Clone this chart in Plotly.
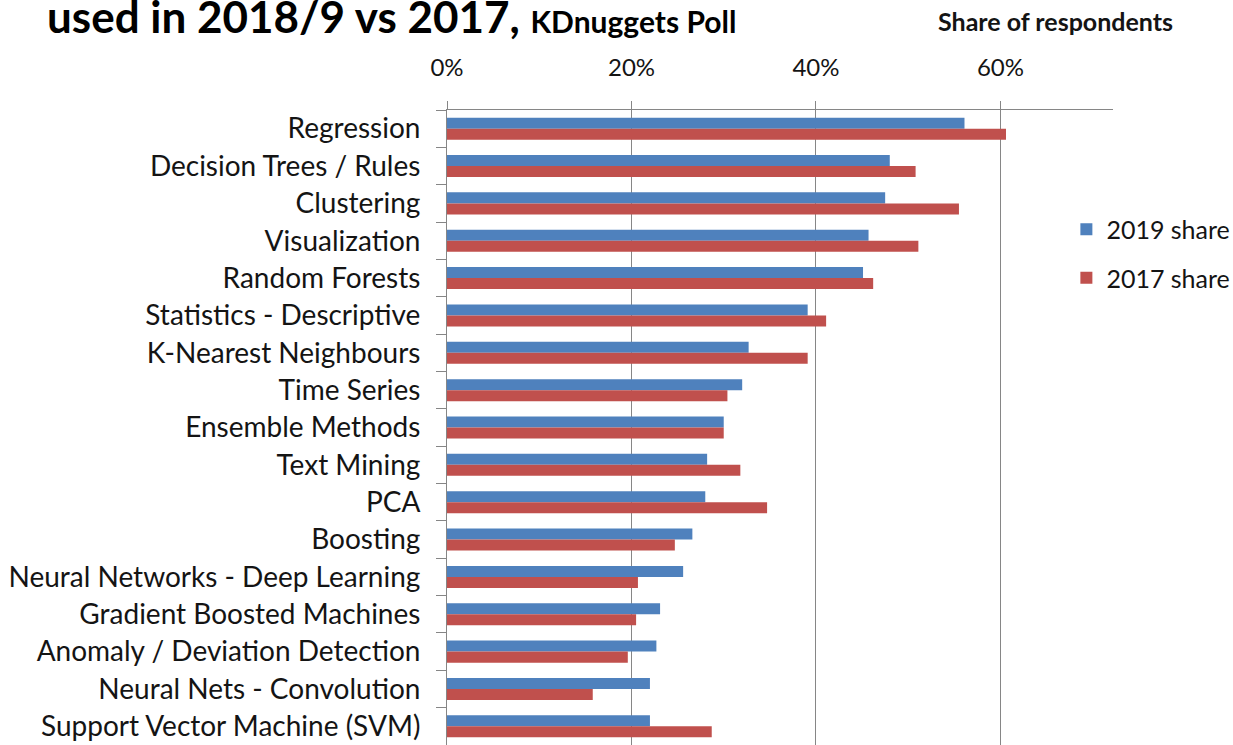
import plotly.graph_objects as go

# Poll categories, top to bottom
algorithms = [
    "Regression",
    "Decision Trees / Rules",
    "Clustering",
    "Visualization",
    "Random Forests",
    "Statistics - Descriptive",
    "K-Nearest Neighbours",
    "Time Series",
    "Ensemble Methods",
    "Text Mining",
    "PCA",
    "Boosting",
    "Neural Networks - Deep Learning",
    "Gradient Boosted Machines",
    "Anomaly / Deviation Detection",
    "Neural Nets - Convolution",
    "Support Vector Machine (SVM)",
]

# Share of respondents (fraction)
share_2019 = [0.561, 0.480, 0.475, 0.457, 0.451, 0.391, 0.327, 0.320, 0.300, 0.282,
              0.280, 0.266, 0.256, 0.231, 0.227, 0.220, 0.220]
share_2017 = [0.606, 0.508, 0.555, 0.511, 0.462, 0.411, 0.391, 0.304, 0.300, 0.318,
              0.347, 0.247, 0.207, 0.205, 0.196, 0.158, 0.287]

x_ticks = [0, 0.2, 0.4, 0.6]
x_tick_labels = ["0%", "20%", "40%", "60%"]

BLUE = "#4F81BD"
RED = "#C0504D"
GRID = "#868686"
FONT = "Lato"
INK = "#141414"

fig = go.Figure()
fig.add_trace(go.Bar(
    y=algorithms, x=share_2019, orientation="h", name="2019 share",
    marker=dict(color=BLUE, line=dict(width=0)), legendgroup="a",
))
fig.add_trace(go.Bar(
    y=algorithms, x=share_2017, orientation="h", name="2017 share",
    marker=dict(color=RED, line=dict(width=0)), legendgroup="b",
))

fig.update_layout(
    width=1233, height=745,
    margin=dict(l=447, r=120, t=110, b=0, autoexpand=False),
    paper_bgcolor="white", plot_bgcolor="white",
    barmode="group", bargap=0.41, bargroupgap=0,
    font=dict(family=FONT, color=INK, size=22),
    showlegend=True,
    legend=dict(
        x=0.93, xanchor="left", y=0.848, yanchor="top",
        font=dict(family=FONT, size=25, color=INK),
        tracegroupgap=13, bgcolor="rgba(0,0,0,0)",
    ),
    xaxis=dict(
        side="top", range=[0, 0.722],
        tickvals=x_ticks, ticktext=x_tick_labels,
        showgrid=True, gridcolor=GRID, gridwidth=1,
        showline=True, linecolor=GRID, linewidth=1,
        ticks="outside", ticklen=8, tickcolor=GRID,
        tickfont=dict(family=FONT, size=24, color=INK),
        ticklabelstandoff=15,
        zeroline=False, fixedrange=True,
    ),
    yaxis=dict(
        autorange="reversed", type="category",
        showgrid=False, showline=True, linecolor=GRID, linewidth=1,
        ticks="outside", ticklen=10, tickcolor=GRID, tickson="boundaries",
        tickfont=dict(family=FONT, size=28, color=INK),
        ticklabelstandoff=20,
        fixedrange=True,
    ),
)

fig.add_annotation(
    xref="paper", yref="paper", x=(45 - 447) / 666, y=1 + 66 / 635,
    xanchor="left", yanchor="bottom", showarrow=False,
    text="<b>used in 2018/9 vs 2017, <span style='font-size:30px'>KDnuggets Poll</span></b>",
    font=dict(family=FONT, size=44, color="#000000"),
)
fig.add_annotation(
    xref="paper", yref="paper", x=(1055 - 447) / 666, y=1 + 89 / 635,
    xanchor="center", yanchor="middle", showarrow=False,
    text="<b>Share of respondents</b>",
    font=dict(family=FONT, size=25, color=INK),
)

fig.write_html("out.html")
